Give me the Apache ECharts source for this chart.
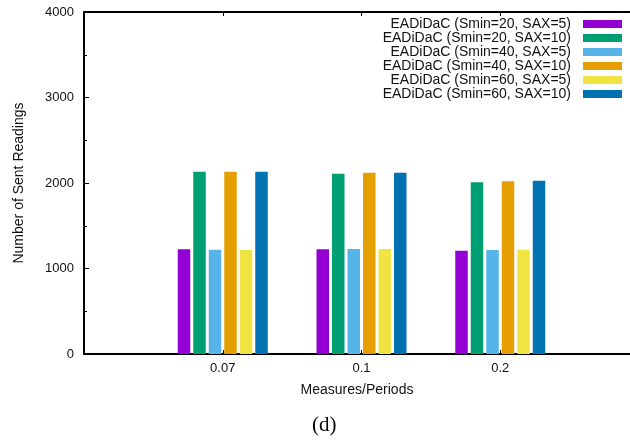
<!DOCTYPE html>
<html>
<head>
<meta charset="utf-8">
<script src="https://cdn.jsdelivr.net/npm/echarts@6/dist/echarts.min.js"></script>
<style>
  html, body { margin: 0; padding: 0; background: #fff; }
  #chart { width: 630px; height: 440px; }
</style>
</head>
<body>
<div id="chart"></div>
<script>
// Category positions on the x axis and their tick labels
const categoryPositions = [0, 1, 2];
const categoryLabels = ['0.07', '0.1', '0.2'];

// Series names and bar colours
const seriesNames = [
  'EADiDaC (Smin=20, SAX=5)',
  'EADiDaC (Smin=20, SAX=10)',
  'EADiDaC (Smin=40, SAX=5)',
  'EADiDaC (Smin=40, SAX=10)',
  'EADiDaC (Smin=60, SAX=5)',
  'EADiDaC (Smin=60, SAX=10)'
];
const seriesColors = ['#9400d3', '#009e73', '#56b4e9', '#e69f00', '#f0e442', '#0072b2'];

// Number of sent readings per series, one value per category
const smin20sax5  = [1224, 1224, 1208];
const smin20sax10 = [2132, 2109, 2008];
const smin40sax5  = [1220, 1228, 1216];
const smin40sax10 = [2132, 2121, 2020];
const smin60sax5  = [1216, 1228, 1220];
const smin60sax10 = [2132, 2121, 2027];
const seriesValues = [smin20sax5, smin20sax10, smin40sax5, smin40sax10, smin60sax5, smin60sax10];

const yTicks = [0, 1000, 2000, 3000, 4000];

// The x range runs from -1 to 3; the plot is cut at the right edge of the page,
// so the visible part ends a little before 3.
const X_MIN = -1;
const X_VISIBLE_MAX = 2.935;

const FONT = "'Liberation Sans', Arial, sans-serif";
const INK = '#111111';

const chart = echarts.init(document.getElementById('chart'), null, { renderer: 'canvas' });

const series = seriesNames.map((name, s) => ({
  name: name,
  type: 'bar',
  xAxisIndex: 0,
  yAxisIndex: 0,
  barWidth: 12.5,
  barGap: '24%',
  itemStyle: { color: seriesColors[s] },
  data: categoryPositions.map((x, i) => [x, seriesValues[s][i]])
}));

chart.setOption({
  animation: false,
  backgroundColor: '#ffffff',
  textStyle: { fontFamily: FONT, color: INK },
  grid: { left: 84, top: 12, right: 0, height: 342, show: false },
  legend: {
    orient: 'vertical',
    right: 8,
    top: 17,
    padding: 0,
    align: 'right',
    icon: 'rect',
    itemWidth: 39,
    itemHeight: 8,
    itemGap: 0,
    data: seriesNames,
    textStyle: { fontFamily: FONT, fontSize: 14, lineHeight: 14, color: INK, padding: [0, 7, 0, 0] }
  },
  xAxis: [
    {
      type: 'value',
      position: 'bottom',
      min: X_MIN,
      max: X_VISIBLE_MAX,
      splitLine: { show: false },
      axisLine: { show: true, onZero: false, lineStyle: { color: '#000', width: 2 } },
      axisTick: { show: true, inside: true, length: 4, customValues: categoryPositions, lineStyle: { color: '#000', width: 1 } },
      axisLabel: {
        customValues: categoryPositions,
        formatter: v => categoryLabels[categoryPositions.indexOf(v)] || '',
        fontFamily: FONT, fontSize: 13, color: INK, margin: 8
      },
      name: 'Measures/Periods',
      nameLocation: 'middle',
      nameGap: 29,
      nameTextStyle: { fontFamily: FONT, fontSize: 14, color: INK }
    },
    {
      type: 'value',
      position: 'top',
      min: X_MIN,
      max: X_VISIBLE_MAX,
      splitLine: { show: false },
      axisLine: { show: true, onZero: false, lineStyle: { color: '#000', width: 2 } },
      axisTick: { show: true, inside: true, length: 4, customValues: categoryPositions, lineStyle: { color: '#000', width: 1 } },
      axisLabel: { show: false }
    }
  ],
  yAxis: {
    type: 'value',
    min: yTicks[0],
    max: yTicks[yTicks.length - 1],
    interval: 1000,
    splitLine: { show: false },
    axisLine: { show: true, onZero: false, lineStyle: { color: '#000', width: 2 } },
    axisTick: { show: true, inside: true, length: 5, lineStyle: { color: '#000', width: 1 } },
    minorTick: { show: true, splitNumber: 2, length: 3, lineStyle: { color: '#000', width: 1 } },
    axisLabel: { fontFamily: FONT, fontSize: 13, color: INK, margin: 10, formatter: v => String(v) },
    name: 'Number of Sent Readings',
    nameLocation: 'middle',
    nameGap: 58,
    nameTextStyle: { fontFamily: FONT, fontSize: 14, color: INK }
  },
  graphic: [{
    type: 'text',
    left: 312,
    top: 415,
    style: { text: '(d)', font: "21px 'Liberation Serif', 'Times New Roman', serif", fill: '#000' }
  }],
  series: series
});
</script>
</body>
</html>
